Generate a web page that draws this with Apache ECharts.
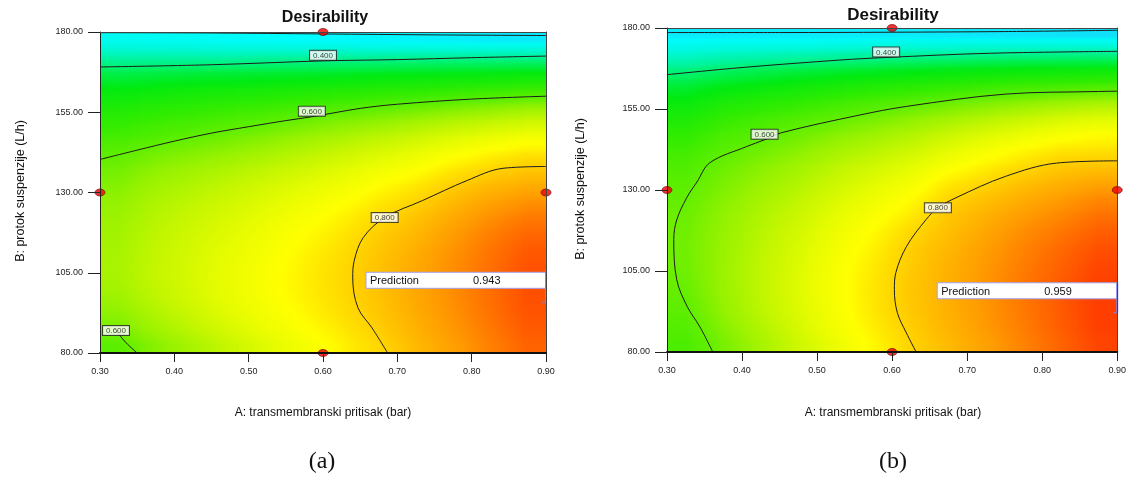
<!DOCTYPE html>
<html>
<head>
<meta charset="utf-8">
<script src="https://cdn.jsdelivr.net/npm/echarts@6/dist/echarts.min.js"></script>
<style>
  html, body { margin: 0; padding: 0; background: #ffffff; }
  #chart { width: 1129px; height: 478px; }
</style>
</head>
<body>
<div id="chart"></div>
<script>
// ---- Factor levels (axis ticks) ----
const aTicks = [0.30, 0.40, 0.50, 0.60, 0.70, 0.80, 0.90];
const bTicks = [80, 105, 130, 155, 180];

// ---- Desirability grid: cell centres ----
const aCells = [0.325, 0.375, 0.425, 0.475, 0.525, 0.575, 0.625, 0.675, 0.725, 0.775, 0.825, 0.875];
const bCells = [177.5, 172.5, 167.5, 162.5, 157.5, 152.5, 147.5, 142.5, 137.5, 132.5,
                127.5, 122.5, 117.5, 112.5, 107.5, 102.5, 97.5, 92.5, 87.5, 82.5];

// Panel (a): one column per aCells entry, values listed in bCells order (top to bottom)
const desirA = [
  [0.255,0.345,0.420,0.470,0.510,0.545,0.570,0.595,0.612,0.625,0.635,0.643,0.649,0.653,0.655,0.653,0.645,0.633,0.617,0.595],
  [0.250,0.345,0.425,0.480,0.525,0.560,0.585,0.612,0.632,0.647,0.658,0.667,0.673,0.678,0.680,0.680,0.674,0.663,0.648,0.628],
  [0.245,0.345,0.430,0.490,0.535,0.570,0.598,0.625,0.645,0.662,0.675,0.685,0.693,0.698,0.701,0.702,0.698,0.688,0.675,0.655],
  [0.240,0.345,0.432,0.495,0.545,0.582,0.610,0.637,0.660,0.678,0.692,0.703,0.712,0.719,0.723,0.725,0.722,0.714,0.702,0.684],
  [0.235,0.350,0.437,0.502,0.553,0.593,0.624,0.652,0.675,0.695,0.710,0.723,0.733,0.741,0.746,0.748,0.746,0.739,0.728,0.712],
  [0.232,0.352,0.440,0.510,0.565,0.607,0.640,0.668,0.692,0.713,0.730,0.744,0.755,0.763,0.768,0.770,0.768,0.762,0.752,0.738],
  [0.228,0.355,0.445,0.518,0.575,0.620,0.655,0.685,0.710,0.732,0.750,0.765,0.777,0.786,0.791,0.793,0.791,0.786,0.777,0.766],
  [0.225,0.357,0.450,0.525,0.585,0.632,0.670,0.702,0.730,0.754,0.774,0.791,0.804,0.812,0.817,0.819,0.817,0.812,0.805,0.795],
  [0.222,0.360,0.455,0.532,0.595,0.645,0.685,0.720,0.750,0.775,0.797,0.815,0.829,0.839,0.845,0.847,0.846,0.842,0.836,0.827],
  [0.218,0.360,0.460,0.540,0.605,0.660,0.705,0.743,0.775,0.803,0.826,0.844,0.858,0.867,0.872,0.874,0.873,0.869,0.863,0.856],
  [0.215,0.360,0.465,0.548,0.615,0.672,0.720,0.762,0.795,0.825,0.850,0.870,0.885,0.895,0.900,0.902,0.901,0.898,0.892,0.885],
  [0.212,0.360,0.470,0.555,0.625,0.685,0.735,0.777,0.810,0.840,0.867,0.890,0.907,0.920,0.927,0.930,0.930,0.926,0.920,0.912]
];

// Panel (b): same layout
const desirB = [
  [0.215,0.300,0.380,0.435,0.480,0.515,0.545,0.566,0.582,0.593,0.601,0.607,0.611,0.612,0.611,0.607,0.602,0.596,0.588,0.578],
  [0.215,0.315,0.397,0.460,0.510,0.548,0.575,0.592,0.607,0.618,0.627,0.634,0.638,0.641,0.642,0.642,0.640,0.635,0.627,0.616],
  [0.215,0.320,0.410,0.475,0.527,0.567,0.590,0.610,0.627,0.640,0.651,0.660,0.667,0.672,0.675,0.676,0.675,0.671,0.663,0.652],
  [0.215,0.327,0.420,0.490,0.543,0.582,0.607,0.628,0.647,0.662,0.675,0.686,0.695,0.702,0.707,0.709,0.709,0.706,0.699,0.689],
  [0.215,0.335,0.430,0.505,0.560,0.597,0.625,0.650,0.671,0.688,0.703,0.716,0.727,0.736,0.742,0.745,0.745,0.742,0.736,0.726],
  [0.215,0.340,0.440,0.518,0.575,0.612,0.642,0.668,0.692,0.712,0.729,0.744,0.757,0.767,0.774,0.778,0.779,0.777,0.771,0.762],
  [0.215,0.345,0.450,0.530,0.588,0.628,0.660,0.688,0.713,0.736,0.756,0.773,0.792,0.803,0.807,0.811,0.812,0.810,0.805,0.798],
  [0.213,0.350,0.458,0.540,0.601,0.645,0.682,0.714,0.743,0.773,0.796,0.811,0.820,0.829,0.835,0.838,0.839,0.837,0.833,0.827],
  [0.212,0.355,0.465,0.550,0.613,0.662,0.703,0.738,0.768,0.795,0.818,0.835,0.848,0.857,0.862,0.865,0.866,0.865,0.861,0.855],
  [0.210,0.357,0.470,0.558,0.625,0.678,0.722,0.760,0.790,0.817,0.840,0.858,0.872,0.882,0.888,0.892,0.893,0.892,0.888,0.883],
  [0.208,0.358,0.475,0.565,0.636,0.693,0.740,0.778,0.808,0.835,0.858,0.877,0.893,0.905,0.913,0.918,0.920,0.920,0.917,0.911],
  [0.205,0.360,0.478,0.570,0.645,0.705,0.753,0.782,0.815,0.848,0.877,0.898,0.915,0.928,0.937,0.943,0.946,0.947,0.945,0.940]
];

// ---- Contour lines [A, B] ----
const contA02 = [[0.30,179.8],[0.45,179.7],[0.60,179.4],[0.75,179.1],[0.90,178.9]];
const contA04 = [[0.30,169.1],[0.45,169.8],[0.60,171.0],[0.70,171.4],[0.80,172.0],[0.90,172.5]];
const contA06 = [[0.30,140.3],[0.35,143.2],[0.40,146.0],[0.45,148.5],[0.50,150.5],[0.55,152.4],
                 [0.585,153.6],[0.65,156.2],[0.70,157.5],[0.80,159.1],[0.90,160.0]];
const contA06b = [[0.3215,87.0],[0.335,83.2],[0.35,80.0]];
const contA08 = [[0.90,138.1],[0.841,137.5],[0.794,133.75],[0.734,127.5],[0.683,122.2],[0.654,115.9],
                 [0.642,108.75],[0.640,103.4],[0.647,94.1],[0.666,87.8],[0.687,80.0]];

const contB02 = [[0.30,178.6],[0.45,178.6],[0.60,178.7],[0.75,178.9],[0.90,179.3]];
const contB04 = [[0.30,165.6],[0.40,167.8],[0.53,170.1],[0.592,170.9],[0.73,172.2],[0.90,172.8]];
const contB06 = [[0.90,160.5],[0.875,160.4],[0.751,159.6],[0.619,155.8],[0.556,153.1],[0.453,147.7],
                 [0.43,145.5],[0.406,143.4],[0.357,138.4],[0.340,132.5],[0.326,127.5],[0.313,120.8],
                 [0.309,114.7],[0.313,102.3],[0.327,94.0],[0.344,87.7],[0.361,80.0]];
const contB08 = [[0.90,139.0],[0.819,138.3],[0.751,134.2],[0.685,127.6],[0.661,124.5],[0.645,120.8],
                 [0.619,112.5],[0.605,104.5],[0.603,99.2],[0.607,92.1],[0.619,85.9],[0.632,80.0]];

// ---- Design points [A, B] ----
const designA = [[0.60,180],[0.30,130],[0.90,130],[0.60,80]];
const designB = [[0.60,180],[0.30,130],[0.90,130],[0.60,80]];

// ---- Predicted optimum [A, B, desirability] ----
const predA = [0.90, 95.8, 0.943];
const predB = [0.90, 92.1, 0.959];

// ---- Colour ramp for desirability ----
const ramp = [
  [0.10,'#1e90ff'],[0.18,'#20c4f4'],[0.23,'#00fcff'],[0.30,'#00f8d8'],[0.36,'#00f4a0'],
  [0.42,'#00f050'],[0.47,'#00ea10'],[0.55,'#30ec00'],[0.60,'#60ee00'],[0.64,'#98f200'],
  [0.68,'#c4f600'],[0.72,'#e8fc00'],[0.755,'#ffff00'],[0.785,'#ffe000'],[0.82,'#ffc000'],
  [0.86,'#ff9c00'],[0.90,'#ff7000'],[0.94,'#ff4400'],[0.97,'#ff2800'],[1.00,'#ff1800']
];
function hexRgb(h) { return [parseInt(h.slice(1,3),16), parseInt(h.slice(3,5),16), parseInt(h.slice(5,7),16)]; }
function colorOf(v) {
  if (v <= ramp[0][0]) return ramp[0][1];
  for (let i = 0; i < ramp.length - 1; i++) {
    const [v0, c0] = ramp[i], [v1, c1] = ramp[i + 1];
    if (v <= v1) {
      const t = (v - v0) / (v1 - v0), a = hexRgb(c0), b = hexRgb(c1);
      return 'rgb(' + a.map((x, k) => Math.round(x + (b[k] - x) * t)).join(',') + ')';
    }
  }
  return ramp[ramp.length - 1][1];
}

const FONT = "'Liberation Sans', Arial, sans-serif";

// Patch edges: between neighbouring cell centres, clamped to the plot border
function aEdge(i) { return i < 0 ? aTicks[0] : (i >= aCells.length ? aTicks[aTicks.length - 1] : aCells[i]); }
function bEdge(j) { return j < 0 ? bTicks[bTicks.length - 1] : (j >= bCells.length ? bTicks[0] : bCells[j]); }
function nodeVal(cols, i, j) {
  i = Math.max(0, Math.min(cols.length - 1, i));
  j = Math.max(0, Math.min(cols[0].length - 1, j));
  return cols[i][j];
}

// Each patch spans four neighbouring cell centres and is shaded between their colours
function surfaceSeries(cols, axisIdx) {
  const patches = [];
  for (let i = -1; i < aCells.length; i++) {
    for (let j = -1; j < bCells.length; j++) {
      patches.push([(aEdge(i) + aEdge(i + 1)) / 2, (bEdge(j) + bEdge(j + 1)) / 2, i, j]);
    }
  }
  return {
    type: 'custom', xAxisIndex: axisIdx, yAxisIndex: axisIdx, clip: true, silent: true, z: 1,
    data: patches,
    renderItem: function (params, api) {
      const i = api.value(2), j = api.value(3);
      const tl = api.coord([aEdge(i), bEdge(j)]);
      const br = api.coord([aEdge(i + 1), bEdge(j + 1)]);
      const w = br[0] - tl[0], h = br[1] - tl[1];
      const v00 = nodeVal(cols, i, j), v10 = nodeVal(cols, i + 1, j);
      const v01 = nodeVal(cols, i, j + 1), v11 = nodeVal(cols, i + 1, j + 1);
      const n = Math.max(1, Math.round(w / 3));
      const children = [];
      for (let s = 0; s < n; s++) {
        const tm = (s + 0.5) / n;
        const vt = v00 + (v10 - v00) * tm, vb = v01 + (v11 - v01) * tm;
        const stops = [0, 0.25, 0.5, 0.75, 1].map(k => ({ offset: k, color: colorOf(vt + (vb - vt) * k) }));
        children.push({ type: 'rect',
          shape: { x: tl[0] + w * s / n - 0.3, y: tl[1] - 0.3, width: w / n + 0.8, height: h + 0.8 },
          style: { fill: new echarts.graphic.LinearGradient(0, 0, 0, 1, stops) } });
      }
      return { type: 'group', children: children };
    }
  };
}

function contourSeries(pts, axisIdx) {
  return { type: 'line', xAxisIndex: axisIdx, yAxisIndex: axisIdx, data: pts, smooth: 0.35,
    symbol: 'none', silent: true, clip: true, z: 3,
    lineStyle: { color: '#1c1c1c', width: 1 } };
}

function contourLabel(pts, idx, text, pos, axisIdx) {
  return { type: 'scatter', xAxisIndex: axisIdx, yAxisIndex: axisIdx, silent: true, z: 6,
    symbolSize: 0.1, clip: false, data: [pts[idx]],
    label: { show: true, position: pos, distance: 1, formatter: text, fontFamily: FONT, fontSize: 8,
      color: '#111', backgroundColor: '#ffffff', borderColor: '#222', borderWidth: 1, padding: [1, 3, 0, 3] } };
}

function designSeries(pts, axisIdx) {
  return { type: 'scatter', xAxisIndex: axisIdx, yAxisIndex: axisIdx, data: pts, clip: false, z: 8,
    symbol: 'circle', symbolSize: [10, 7], silent: true,
    itemStyle: { color: '#f00000', borderColor: '#6a0000', borderWidth: 0.8 } };
}

function predictionSeries(pred, axisIdx) {
  return { type: 'custom', xAxisIndex: axisIdx, yAxisIndex: axisIdx, clip: false, silent: true, z: 9,
    data: [pred],
    renderItem: function (params, api) {
      const p = api.coord([api.value(0), api.value(1)]);
      const w = 180, h = 16, top = p[1] - 30, right = p[0];
      return { type: 'group', children: [
        { type: 'rect', shape: { x: right - w, y: top, width: w, height: h },
          style: { fill: '#ffffff', stroke: '#a0a0f0', lineWidth: 1 } },
        { type: 'line', shape: { x1: right, y1: top, x2: right, y2: p[1] },
          style: { stroke: '#8080f0', lineWidth: 2 } },
        { type: 'line', shape: { x1: right - 4, y1: p[1], x2: right, y2: p[1] },
          style: { stroke: '#8080f0', lineWidth: 1 } },
        { type: 'text', x: right - w + 4, y: top + h / 2 + 1,
          style: { text: 'Prediction', font: '11px ' + FONT, fill: '#111', align: 'left', verticalAlign: 'middle' } },
        { type: 'text', x: right - w + 107, y: top + h / 2 + 1,
          style: { text: api.value(2).toFixed(3), font: '11px ' + FONT, fill: '#111', align: 'left', verticalAlign: 'middle' } }
      ] };
    }
  };
}

const fmt2 = v => Number(v).toFixed(2);
function xAxes(g) {
  return [
    { gridIndex: g, type: 'value', min: 0.3, max: 0.9, position: 'bottom', z: 10,
      axisLine: { show: true, onZero: false, lineStyle: { color: '#111', width: 2 } },
      axisTick: { show: true, customValues: aTicks, length: 9, lineStyle: { color: '#222', width: 1 } },
      axisLabel: { customValues: aTicks, formatter: fmt2, margin: 14, fontFamily: FONT, fontSize: 9, color: '#222' },
      splitLine: { show: false } },
    { gridIndex: g, type: 'value', min: 0.3, max: 0.9, position: 'top', z: 10,
      axisLine: { show: true, onZero: false, lineStyle: { color: '#444', width: 1 } },
      axisTick: { show: false }, axisLabel: { show: false }, splitLine: { show: false } }
  ];
}
function yAxes(g) {
  return [
    { gridIndex: g, type: 'value', min: 80, max: 180, position: 'left', z: 10,
      axisLine: { show: true, onZero: false, lineStyle: { color: '#222', width: 1 } },
      axisTick: { show: true, customValues: bTicks, length: 12, lineStyle: { color: '#222', width: 1 } },
      axisLabel: { customValues: bTicks, formatter: fmt2, margin: 17, fontFamily: FONT, fontSize: 9, color: '#222' },
      splitLine: { show: false } },
    { gridIndex: g, type: 'value', min: 80, max: 180, position: 'right', z: 10,
      axisLine: { show: true, onZero: false, lineStyle: { color: '#444', width: 1 } },
      axisTick: { show: false }, axisLabel: { show: false }, splitLine: { show: false } }
  ];
}

function textEl(text, x, y, font, rot) {
  return { type: 'text', x: x, y: y, rotation: rot || 0, z: 20,
    style: { text: text, font: font, fill: '#111', align: 'center', verticalAlign: 'middle' } };
}

const chart = echarts.init(document.getElementById('chart'), null, { renderer: 'canvas' });
chart.setOption({
  backgroundColor: '#ffffff',
  animation: false,
  grid: [
    { left: 100, top: 32, width: 446, height: 321 },
    { left: 667, top: 28, width: 452, height: 324 }
  ],
  xAxis: [...xAxes(0), ...xAxes(1)],
  yAxis: [...yAxes(0), ...yAxes(1)],
  series: [
    surfaceSeries(desirA, 0),
    contourSeries(contA02, 0), contourSeries(contA04, 0), contourSeries(contA06, 0),
    contourSeries(contA06b, 0), contourSeries(contA08, 0),
    contourLabel(contA04, 2, '0.400', 'top', 0),
    contourLabel(contA06, 6, '0.600', 'top', 0),
    contourLabel(contA06b, 0, '0.600', 'inside', 0),
    contourLabel(contA08, 4, '0.800', 'inside', 0),
    designSeries(designA, 0),
    predictionSeries(predA, 0),

    surfaceSeries(desirB, 2),
    contourSeries(contB02, 2), contourSeries(contB04, 2), contourSeries(contB06, 2), contourSeries(contB08, 2),
    contourLabel(contB04, 3, '0.400', 'top', 2),
    contourLabel(contB06, 6, '0.600', 'top', 2),
    contourLabel(contB08, 4, '0.800', 'inside', 2),
    designSeries(designB, 2),
    predictionSeries(predB, 2)
  ],
  graphic: [
    textEl('Desirability', 325, 18, 'bold 16px ' + FONT),
    textEl('Desirability', 893, 15, 'bold 17px ' + FONT),
    textEl('B: protok suspenzije (L/h)', 21, 191, '12.5px ' + FONT, Math.PI / 2),
    textEl('B: protok suspenzije (L/h)', 581, 189, '12.5px ' + FONT, Math.PI / 2),
    textEl('A: transmembranski pritisak (bar)', 323, 413, '12px ' + FONT),
    textEl('A: transmembranski pritisak (bar)', 893, 413, '12px ' + FONT),
    textEl('(a)', 322, 462, '24px "Liberation Serif", "Times New Roman", serif'),
    textEl('(b)', 893, 462, '24px "Liberation Serif", "Times New Roman", serif')
  ]
});
</script>
</body>
</html>
